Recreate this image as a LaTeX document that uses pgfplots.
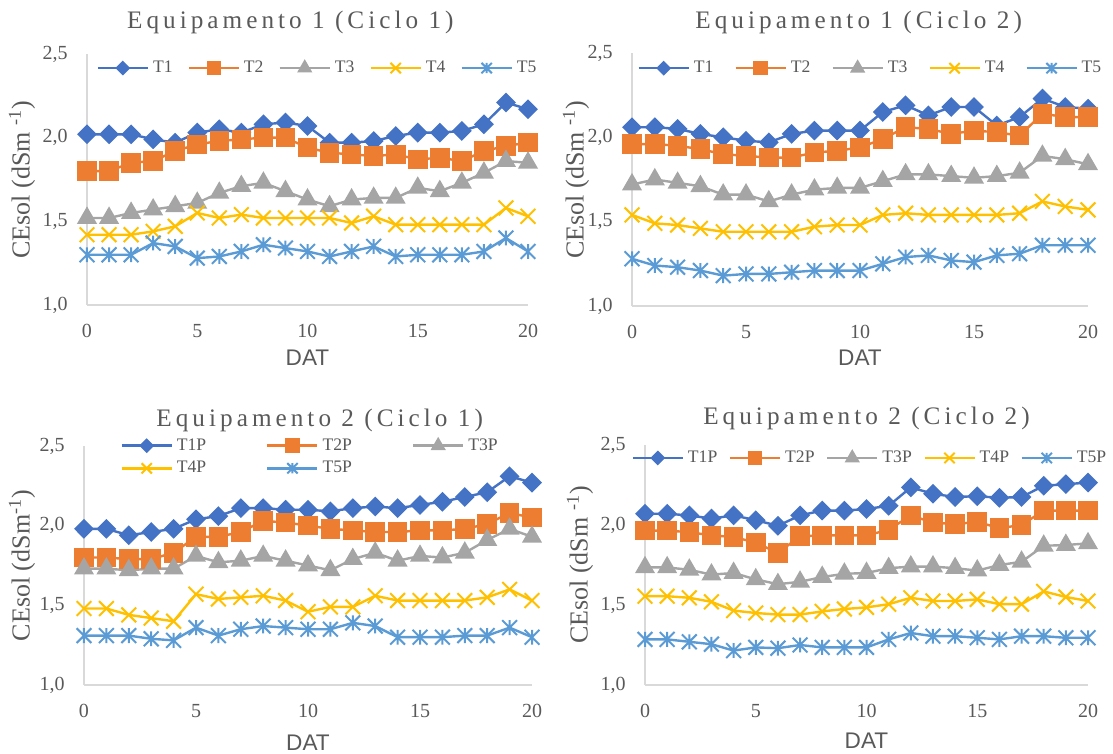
\documentclass[border=0pt]{standalone}
\usepackage{fontspec}
\setmainfont{Liberation Serif}
\newfontfamily\sansf{Liberation Sans}
\newfontfamily\titlef[LetterSpace=16]{Liberation Serif}
\usepackage{pgfplots}
\usepackage{pgfplotstable}
\pgfplotsset{compat=1.18}

\definecolor{c1}{HTML}{4472C4}
\definecolor{c2}{HTML}{ED7D31}
\definecolor{c3}{HTML}{A5A5A5}
\definecolor{c4}{HTML}{FFC000}
\definecolor{c5}{HTML}{5B9BD5}
\definecolor{txt}{HTML}{595959}
\definecolor{axc}{HTML}{D9D9D9}

\tikzset{
  ylfont/.style={font=\fontsize{13}{15}\selectfont, color=txt},
  xlfont/.style={font=\sansf\fontsize{11.3}{13}\selectfont, color=txt},
}

\pgfdeclareplotmark{xstar}{%
  \pgfpathmoveto{\pgfqpoint{0pt}{\pgfplotmarksize}}%
  \pgfpathlineto{\pgfqpoint{0pt}{-\pgfplotmarksize}}%
  \pgfpathmoveto{\pgfqpoint{-\pgfplotmarksize}{-\pgfplotmarksize}}%
  \pgfpathlineto{\pgfqpoint{\pgfplotmarksize}{\pgfplotmarksize}}%
  \pgfpathmoveto{\pgfqpoint{-\pgfplotmarksize}{\pgfplotmarksize}}%
  \pgfpathlineto{\pgfqpoint{\pgfplotmarksize}{-\pgfplotmarksize}}%
  \pgfusepathqstroke}

\pgfplotstableread{
x t1 t2 t3 t4 t5
0 2.02 1.80 1.52 1.42 1.30
1 2.02 1.80 1.52 1.42 1.30
2 2.02 1.85 1.55 1.42 1.30
3 1.99 1.86 1.57 1.44 1.37
4 1.97 1.92 1.59 1.47 1.35
5 2.03 1.96 1.61 1.55 1.28
6 2.05 1.98 1.67 1.52 1.29
7 2.03 1.99 1.71 1.54 1.32
8 2.08 2.00 1.73 1.52 1.36
9 2.09 2.00 1.68 1.52 1.34
10 2.07 1.94 1.63 1.52 1.32
11 1.97 1.91 1.59 1.52 1.29
12 1.97 1.90 1.63 1.49 1.32
13 1.98 1.89 1.64 1.53 1.35
14 2.01 1.90 1.64 1.48 1.29
15 2.03 1.87 1.70 1.48 1.30
16 2.03 1.88 1.68 1.48 1.30
17 2.04 1.86 1.73 1.48 1.30
18 2.08 1.92 1.79 1.48 1.32
19 2.21 1.95 1.86 1.58 1.40
20 2.17 1.97 1.85 1.53 1.32
}\tabA

\pgfplotstableread{
x t1 t2 t3 t4 t5
0 2.06 1.96 1.72 1.54 1.28
1 2.06 1.96 1.75 1.49 1.24
2 2.05 1.95 1.73 1.48 1.23
3 2.02 1.93 1.71 1.46 1.21
4 2.00 1.90 1.66 1.44 1.18
5 1.98 1.89 1.66 1.44 1.19
6 1.97 1.88 1.62 1.44 1.19
7 2.02 1.88 1.66 1.44 1.20
8 2.04 1.91 1.69 1.47 1.21
9 2.04 1.92 1.70 1.48 1.21
10 2.04 1.94 1.70 1.48 1.21
11 2.15 1.99 1.74 1.54 1.25
12 2.19 2.06 1.78 1.55 1.29
13 2.13 2.05 1.78 1.54 1.30
14 2.18 2.02 1.77 1.54 1.27
15 2.18 2.04 1.76 1.54 1.26
16 2.07 2.03 1.77 1.54 1.30
17 2.12 2.01 1.79 1.55 1.31
18 2.23 2.14 1.89 1.62 1.36
19 2.18 2.12 1.87 1.59 1.36
20 2.17 2.12 1.84 1.57 1.36
}\tabB

\pgfplotstableread{
x t1 t2 t3 t4 t5
0 1.98 1.80 1.73 1.48 1.31
1 1.98 1.80 1.73 1.48 1.31
2 1.94 1.79 1.72 1.44 1.31
3 1.96 1.79 1.73 1.42 1.29
4 1.98 1.83 1.73 1.40 1.28
5 2.04 1.93 1.81 1.57 1.36
6 2.06 1.93 1.77 1.54 1.31
7 2.11 1.96 1.78 1.55 1.35
8 2.11 2.03 1.81 1.56 1.37
9 2.10 2.02 1.78 1.53 1.36
10 2.10 2.00 1.75 1.46 1.35
11 2.09 1.98 1.72 1.49 1.35
12 2.11 1.97 1.79 1.49 1.39
13 2.12 1.96 1.83 1.56 1.37
14 2.11 1.96 1.78 1.53 1.30
15 2.13 1.97 1.81 1.53 1.30
16 2.15 1.97 1.80 1.53 1.30
17 2.18 1.98 1.83 1.53 1.31
18 2.21 2.01 1.91 1.55 1.31
19 2.31 2.08 1.98 1.60 1.36
20 2.27 2.05 1.93 1.53 1.30
}\tabC

\pgfplotstableread{
x t1 t2 t3 t4 t5
0 2.07 1.965 1.735 1.555 1.285
1 2.07 1.965 1.735 1.555 1.285
2 2.06 1.955 1.72 1.545 1.27
3 2.04 1.935 1.69 1.52 1.255
4 2.06 1.925 1.70 1.465 1.215
5 2.03 1.89 1.66 1.45 1.235
6 1.995 1.825 1.63 1.44 1.23
7 2.06 1.93 1.645 1.44 1.25
8 2.09 1.935 1.675 1.46 1.235
9 2.09 1.935 1.695 1.475 1.235
10 2.10 1.935 1.70 1.485 1.235
11 2.12 1.97 1.73 1.505 1.285
12 2.235 2.06 1.74 1.545 1.325
13 2.195 2.015 1.74 1.525 1.305
14 2.175 2.005 1.73 1.525 1.305
15 2.18 2.02 1.715 1.535 1.295
16 2.17 1.98 1.75 1.505 1.285
17 2.175 2.00 1.77 1.505 1.305
18 2.245 2.09 1.87 1.585 1.305
19 2.255 2.09 1.875 1.55 1.295
20 2.265 2.09 1.885 1.525 1.295
}\tabD

\pgfplotsset{
  panel/.style={
    scale only axis, clip=false,
    xmin=0, xmax=20, ymin=1, ymax=2.5,
    xtick={0,5,10,15,20}, ytick={1,1.5,2,2.5},
    axis lines*=left,
    axis line style={draw=axc, line width=0.8pt, -},
    major tick length=0pt,
    tick label style={font=\fontsize{10}{12}\selectfont, color=txt},
    /pgf/number format/assume math mode=true,
    yticklabel style={anchor=east, inner sep=0pt, xshift=-9.5pt,
      /pgf/number format/.cd, fixed, fixed zerofill, precision=1, use comma},
    xticklabel style={anchor=center, inner sep=0pt, yshift=-13pt},
    ylabel={CEsol (dSm \textsuperscript{-1})},
    xlabel={DAT},
    every axis title/.style={font=\titlef\fontsize{12.6}{15}\selectfont, color=txt, anchor=center, inner sep=0pt},
    legend style={draw=none, fill=none, font=\fontsize{8.8}{10}\selectfont, text=txt,
      anchor=center, inner sep=0pt, row sep=0pt},
    legend image code/.code={\draw[mark repeat=2,mark phase=2,
      /tikz/every mark/.append style={scale=0.7}]
      plot coordinates {(0pt,0pt) (12.5pt,0pt) (25pt,0pt)};},
  },
  s1/.style={color=c1, line width=1.2pt, mark=square*, mark size=2.9pt, mark options={rotate=45, solid}},
  s2/.style={color=c2, line width=1.2pt, mark=square*, mark size=4.3pt, mark options={solid}},
  s3/.style={color=c3, line width=1.2pt, mark=triangle*, mark size=4.6pt, mark options={solid}},
  s4/.style={color=c4, line width=1.2pt, mark=x, mark size=5.2pt, mark options={solid, line width=1pt}},
  s5/.style={color=c5, line width=1.2pt, mark=xstar, mark size=3.7pt, mark options={solid, line width=1pt}},
}

\begin{document}
\begin{tikzpicture}
\useasboundingbox (0,0) rectangle (556.5pt,377pt);

% Panel 1
\begin{axis}[panel, at={(43.5pt,224.5pt)}, anchor=south west,
  width=220.5pt, height=125.5pt,
  title={Equipamento 1 (Ciclo 1)},
  title style={at={(axis description cs:0.461,1.124)}},
  every axis y label/.style={at={(axis description cs:0,0.5)}, xshift=-32.5pt, rotate=90, anchor=center, ylfont},
  every axis x label/.style={at={(axis description cs:0.5,0)}, anchor=center, yshift=-26.5pt, xlfont},
  legend columns=5,
  legend style={at={(axis description cs:0.525,0.944)},
    /tikz/every even column/.append style={column sep=5.5pt}},
]
\addplot[s1] table[x=x,y=t1]{\tabA}; \addlegendentry{T1}
\addplot[s2] table[x=x,y=t2]{\tabA}; \addlegendentry{T2}
\addplot[s3] table[x=x,y=t3]{\tabA}; \addlegendentry{T3}
\addplot[s4] table[x=x,y=t4]{\tabA}; \addlegendentry{T4}
\addplot[s5] table[x=x,y=t5]{\tabA}; \addlegendentry{T5}
\end{axis}

% Panel 2
\begin{axis}[panel, at={(316pt,224pt)}, anchor=south west,
  width=228pt, height=126.5pt,
  title={Equipamento 1 (Ciclo 2)},
  title style={at={(axis description cs:0.497,1.119)}},
  every axis y label/.style={at={(axis description cs:0,0.5)}, xshift=-28pt, rotate=90, anchor=center, ylfont},
  every axis x label/.style={at={(axis description cs:0.5,0)}, anchor=center, yshift=-26pt, xlfont},
  legend columns=5,
  legend style={at={(axis description cs:0.525,0.94)},
    /tikz/every even column/.append style={column sep=8.5pt}},
]
\addplot[s1] table[x=x,y=t1]{\tabB}; \addlegendentry{T1}
\addplot[s2] table[x=x,y=t2]{\tabB}; \addlegendentry{T2}
\addplot[s3] table[x=x,y=t3]{\tabB}; \addlegendentry{T3}
\addplot[s4] table[x=x,y=t4]{\tabB}; \addlegendentry{T4}
\addplot[s5] table[x=x,y=t5]{\tabB}; \addlegendentry{T5}
\end{axis}

% Panel 3
\begin{axis}[panel, at={(42pt,34.5pt)}, anchor=south west,
  width=224pt, height=119.5pt,
  title={Equipamento 2 (Ciclo 1)},
  title style={at={(axis description cs:0.526,1.109)}},
  ylabel={CEsol (dSm\textsuperscript{-1})},
  every axis y label/.style={at={(axis description cs:0,0.5)}, xshift=-31pt, rotate=90, anchor=center, ylfont},
  every axis x label/.style={at={(axis description cs:0.5,0)}, anchor=center, yshift=-29pt, xlfont},
  legend columns=3,
  legend style={at={(axis description cs:0.507,0.954)},
    /tikz/every even column/.append style={column sep=28pt}},
]
\addplot[s1] table[x=x,y=t1]{\tabC}; \addlegendentry{T1P}
\addplot[s2] table[x=x,y=t2]{\tabC}; \addlegendentry{T2P}
\addplot[s3] table[x=x,y=t3]{\tabC}; \addlegendentry{T3P}
\addplot[s4] table[x=x,y=t4]{\tabC}; \addlegendentry{T4P}
\addplot[s5] table[x=x,y=t5]{\tabC}; \addlegendentry{T5P}
\end{axis}

% Panel 4
\begin{axis}[panel, at={(322.5pt,34.5pt)}, anchor=south west,
  width=221.5pt, height=120pt,
  title={Equipamento 2 (Ciclo 2)},
  title style={at={(axis description cs:0.5,1.1125)}},
  every axis y label/.style={at={(axis description cs:0,0.5)}, xshift=-32.5pt, rotate=90, anchor=center, ylfont},
  every axis x label/.style={at={(axis description cs:0.5,0)}, anchor=center, yshift=-28pt, xlfont},
  legend columns=5,
  legend style={at={(axis description cs:0.51,0.946)},
    /tikz/every even column/.append style={column sep=3.75pt}},
]
\addplot[s1] table[x=x,y=t1]{\tabD}; \addlegendentry{T1P}
\addplot[s2] table[x=x,y=t2]{\tabD}; \addlegendentry{T2P}
\addplot[s3] table[x=x,y=t3]{\tabD}; \addlegendentry{T3P}
\addplot[s4] table[x=x,y=t4]{\tabD}; \addlegendentry{T4P}
\addplot[s5] table[x=x,y=t5]{\tabD}; \addlegendentry{T5P}
\end{axis}
\end{tikzpicture}
\end{document}
